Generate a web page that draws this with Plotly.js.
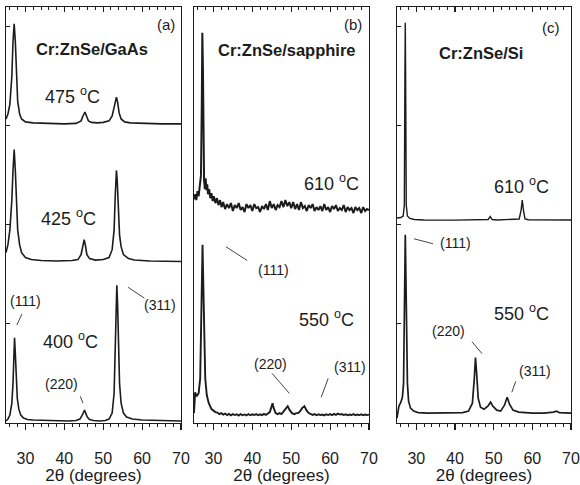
<!DOCTYPE html>
<html>
<head>
<meta charset="utf-8">
<script src="https://cdn.plot.ly/plotly-3.0.1.min.js"></script>
<style>html,body{margin:0;padding:0;background:#fff;}#chart{width:580px;height:485px;}</style>
</head>
<body>
<div id="chart"></div>
<script>
// ---------- DATA (2θ in degrees, intensity in arbitrary stacked units) ----------
// Panel (a) Cr:ZnSe/GaAs
const gaas400X = [25,25.5,26,26.5,26.8,27.0,27.2,27.4,27.6,27.9,28.3,28.8,29.5,30.5,32,35,38,41,43,44,44.6,45.0,45.2,45.5,45.9,46.5,47.5,49,50.5,51.5,52.3,52.8,53.1,53.3,53.5,53.7,53.9,54.2,54.6,55.2,56,57.5,60,63,66,70];
const gaas400Y = [0.02,0.04,0.08,0.2,0.4,0.7,0.86,0.7,0.45,0.25,0.14,0.08,0.05,0.035,0.03,0.025,0.02,0.02,0.025,0.04,0.08,0.12,0.13,0.1,0.06,0.035,0.025,0.02,0.025,0.04,0.1,0.3,0.9,1.3,1.39,1.2,0.8,0.4,0.2,0.1,0.06,0.04,0.03,0.025,0.02,0.02];
const gaas425X = [25,25.5,26,26.5,26.8,27.1,27.4,27.7,28.0,28.5,29,30,31.5,34,38,42,43.5,44.3,44.8,45.1,45.4,45.8,46.5,48,50,51.5,52.3,52.8,53.1,53.3,53.4,53.6,53.9,54.2,54.6,55.2,56.5,58,62,66,70];
const gaas425Y = [1.72,1.8,1.95,2.25,2.55,2.76,2.55,2.2,1.95,1.8,1.72,1.67,1.65,1.64,1.635,1.64,1.65,1.7,1.8,1.85,1.8,1.7,1.66,1.645,1.65,1.67,1.75,1.95,2.3,2.5,2.55,2.45,2.15,1.9,1.78,1.7,1.66,1.645,1.635,1.63,1.63];
const gaas475X = [25,25.5,26,26.5,26.8,27.1,27.4,27.7,28.0,28.5,29,30,32,36,40,43,44.3,44.8,45.3,45.7,46.2,47,48.5,50,51.5,52.3,52.9,53.2,53.4,53.7,54.1,54.6,55.5,57,60,65,70];
const gaas475Y = [3.07,3.12,3.22,3.5,3.85,4.03,3.85,3.5,3.25,3.12,3.07,3.04,3.03,3.025,3.02,3.025,3.05,3.1,3.14,3.1,3.05,3.035,3.03,3.035,3.05,3.1,3.2,3.28,3.29,3.24,3.13,3.07,3.04,3.03,3.025,3.02,3.02];

// Panel (b) Cr:ZnSe/sapphire
const sap550X = [25,25.3,25.7,26.2,26.6,26.9,27.1,27.2,27.35,27.6,27.9,28.3,28.8,29.5,30,30.5,31,31.5,32,32.5,33,33.5,34,34.5,35,35.5,36,36.5,37,37.5,38,38.5,39,39.5,40,40.5,41,41.5,42,42.5,43,43.5,44,44.5,44.9,45.2,45.5,46,46.5,47,47.5,48,48.5,49.1,49.6,50.2,50.8,51.3,51.8,52.3,52.8,53.4,53.9,54.5,55,55.5,56,56.5,57,57.5,58,58.5,59,59.5,60,60.5,61,61.5,62,62.5,63,63.5,64,64.5,65,65.5,66,66.5,67,67.5,68,68.5,69,69.5,70];
const sap550Y = [0.1,0.31,0.27,0.3,0.45,1.0,1.7,1.8,1.5,0.8,0.45,0.28,0.2,0.14,0.12,0.11,0.105,0.09,0.1,0.085,0.095,0.08,0.092,0.078,0.09,0.08,0.088,0.075,0.09,0.078,0.086,0.076,0.09,0.078,0.088,0.08,0.09,0.078,0.088,0.08,0.092,0.082,0.095,0.11,0.16,0.2,0.15,0.1,0.09,0.1,0.09,0.11,0.14,0.17,0.13,0.1,0.09,0.1,0.1,0.12,0.15,0.17,0.13,0.1,0.088,0.082,0.09,0.078,0.088,0.08,0.086,0.077,0.088,0.08,0.09,0.08,0.092,0.082,0.095,0.085,0.09,0.08,0.088,0.078,0.086,0.08,0.09,0.078,0.086,0.08,0.088,0.078,0.086,0.08,0.085];
const sap610X = [25,25.3,25.6,25.9,26.2,26.5,26.8,27.0,27.15,27.3,27.45,27.6,27.8,28.0,28.2,28.4,28.6,28.9,29.2,29.5,29.8,30.1,30.5,30.9,31.3,31.7,32.1,
  32.5,33,33.5,34,34.5,35,35.5,36,36.5,37,37.5,38,38.5,39,39.5,40,40.5,41,41.5,42,42.5,43,43.5,44,44.5,45,45.5,46,46.5,47,
  47.5,48,48.5,49,49.5,50,50.5,51,51.5,52,52.5,53,53.5,54,54.5,55,55.5,56,56.5,57,57.5,58,58.5,59,59.5,60,60.5,61,61.5,62,
  62.5,63,63.5,64,64.5,65,65.5,66,66.5,67,67.5,68,68.5,69,69.5,70];
const sap610Y = [2.26,2.31,2.25,2.34,2.29,2.39,2.5,3.2,3.94,3.6,2.8,2.45,2.36,2.47,2.35,2.41,2.31,2.36,2.27,2.32,2.24,2.29,2.22,2.27,2.2,2.25,2.18,
  2.23,2.16,2.21,2.17,2.22,2.14,2.2,2.17,2.22,2.15,2.18,2.13,2.21,2.17,2.2,2.14,2.21,2.17,2.18,2.13,2.19,2.16,2.21,2.15,2.24,2.17,2.21,2.15,2.2,2.18,
  2.24,2.18,2.25,2.19,2.23,2.17,2.23,2.16,2.21,2.15,2.23,2.17,2.19,2.14,2.2,2.17,2.21,2.14,2.18,2.15,2.19,2.14,2.21,2.15,2.18,2.13,2.19,2.16,2.2,2.14,
  2.17,2.15,2.2,2.13,2.18,2.15,2.17,2.12,2.18,2.15,2.17,2.12,2.18,2.14,2.16,2.15];

// Panel (c) Cr:ZnSe/Si
const si550X = [25,25.5,26,26.4,26.7,26.9,27.05,27.15,27.3,27.5,27.7,28.0,28.5,29.3,30.5,33,38,42,43.5,44.5,45.0,45.3,45.6,46.0,46.6,47.5,48.5,49.2,49.8,50.8,51.8,52.8,53.5,54.1,55,56.5,60,63,65.5,66.2,67,70];
const si550Y = [0.05,0.17,0.21,0.26,0.4,0.9,1.6,1.9,1.5,0.8,0.4,0.22,0.15,0.12,0.105,0.1,0.1,0.105,0.12,0.2,0.45,0.66,0.5,0.25,0.16,0.14,0.17,0.21,0.17,0.13,0.12,0.18,0.26,0.19,0.13,0.11,0.1,0.1,0.11,0.12,0.105,0.1];
const si610X = [25,26,26.6,26.9,27.05,27.15,27.25,27.4,27.7,28.3,29.5,32,40,47,48.6,49.1,49.6,51,55,56.6,57.1,57.4,57.7,58.1,59,63,70];
const si610Y = [2.07,2.075,2.09,2.2,3.5,4.04,3.4,2.2,2.09,2.065,2.055,2.05,2.048,2.05,2.055,2.085,2.055,2.05,2.052,2.06,2.15,2.25,2.15,2.06,2.052,2.05,2.05];

const xTickVals = [30,40,50,60,70];
const xTitle = '2θ (degrees)';

// ---------- STYLE ----------
const FONT = 'Liberation Sans, Arial, Helvetica, sans-serif';
const INK = '#1c1c1c';
const LW = 1.6;

function line(x, y, xa, ya, w) {
  return {x: x, y: y, xaxis: xa, yaxis: ya, type: 'scatter', mode: 'lines',
          line: {color: INK, width: w || LW}, hoverinfo: 'skip', showlegend: false};
}
const traces = [
  line(gaas400X, gaas400Y, 'x', 'y'),
  line(gaas425X, gaas425Y, 'x', 'y'),
  line(gaas475X, gaas475Y, 'x', 'y'),
  line(sap550X, sap550Y, 'x2', 'y2', 1.9),
  line(sap610X, sap610Y, 'x2', 'y2', 2.0),
  line(si550X, si550Y, 'x3', 'y3', 1.7),
  line(si610X, si610Y, 'x3', 'y3', 1.4),
  // empty traces that create the top (mirror) axes
  {x: [], y: [], xaxis: 'x4', yaxis: 'y', type: 'scatter', showlegend: false},
  {x: [], y: [], xaxis: 'x5', yaxis: 'y2', type: 'scatter', showlegend: false},
  {x: [], y: [], xaxis: 'x6', yaxis: 'y3', type: 'scatter', showlegend: false}
];

const domains = [[0, 0.3097], [0.3327, 0.6425], [0.692, 1]];

function bottomAxis(dom, ya) {
  return {domain: dom, anchor: ya, range: [25, 70], tickmode: 'array', tickvals: xTickVals,
    ticks: 'outside', ticklen: 6, tickwidth: 1.2, tickcolor: INK, ticklabelstandoff: 14,
    minor: {tickmode: 'linear', tick0: 0, dtick: 2, ticks: 'outside', ticklen: 3, tickcolor: INK, tickwidth: 1},
    showline: true, linecolor: INK, linewidth: 1.3, zeroline: false, showgrid: false,
    tickfont: {family: FONT, size: 16, color: INK},
    title: {text: xTitle, font: {family: FONT, size: 17, color: INK}, standoff: 11}};
}
function topAxis(over, ya) {
  return {overlaying: over, anchor: ya, side: 'top', range: [25, 70], tickmode: 'linear', tick0: 0, dtick: 10,
    ticks: 'inside', ticklen: 5, tickwidth: 1.2, tickcolor: INK,
    minor: {tickmode: 'linear', tick0: 0, dtick: 2, ticks: 'inside', ticklen: 3, tickcolor: INK, tickwidth: 1},
    showticklabels: false, showline: true, linecolor: INK, linewidth: 1.3, zeroline: false, showgrid: false};
}
function yAxis(xa, showTicks) {
  return {domain: [0, 1], anchor: xa, range: [0, 4.2], tickmode: 'linear', tick0: 0, dtick: 1,
    ticks: showTicks ? 'inside' : '', ticklen: 4, tickcolor: INK, showticklabels: false,
    showline: true, mirror: true, linecolor: INK, linewidth: 1.3, zeroline: false, showgrid: false};
}

function txt(xr, yr, x, y, t, size, bold) {
  return {xref: xr, yref: yr, x: x, y: y, text: bold ? '<b>' + t + '</b>' : t, showarrow: false,
          font: {family: FONT, size: size, color: INK}, xanchor: 'center', yanchor: 'middle'};
}
const deg = (v) => v + ' <sup>o</sup>C';
const TS = 18, PS = 14, BS = 16.5;

const annotations = [
  // (a)
  txt('x', 'y', 66.2, 4.02, '(a)', 15),
  txt('x', 'y', 47.2, 3.78, 'Cr:ZnSe/GaAs', BS, true),
  txt('x', 'y', 42.0, 3.31, deg(475), TS),
  txt('x', 'y', 41.2, 2.07, deg(425), TS),
  txt('x', 'y', 41.5, 0.83, deg(400), TS),
  txt('x', 'y', 29.9, 1.23, '(111)', PS),
  txt('x', 'y', 64.7, 1.19, '(311)', PS),
  txt('x', 'y', 39.2, 0.39, '(220)', PS),
  // (b)
  txt('x2', 'y2', 66.0, 4.02, '(b)', 15),
  txt('x2', 'y2', 49.0, 3.77, 'Cr:ZnSe/sapphire', BS, true),
  txt('x2', 'y2', 60.3, 2.43, deg(610), TS),
  txt('x2', 'y2', 59.0, 1.06, deg(550), TS),
  txt('x2', 'y2', 45.4, 1.54, '(111)', PS),
  txt('x2', 'y2', 44.8, 0.60, '(220)', PS),
  txt('x2', 'y2', 65.2, 0.57, '(311)', PS),
  // (c)
  txt('x3', 'y3', 64.8, 3.99, '(c)', 15),
  txt('x3', 'y3', 46.6, 3.74, 'Cr:ZnSe/Si', BS, true),
  txt('x3', 'y3', 57.3, 2.40, deg(610), TS),
  txt('x3', 'y3', 57.3, 1.12, deg(550), TS),
  txt('x3', 'y3', 40.2, 1.82, '(111)', PS),
  txt('x3', 'y3', 38.4, 0.93, '(220)', PS),
  txt('x3', 'y3', 60.7, 0.53, '(311)', PS)
];

function seg(xr, yr, x0, y0, x1, y1) {
  return {type: 'line', xref: xr, yref: yr, x0: x0, y0: y0, x1: x1, y1: y1, line: {color: '#444', width: 1}};
}
const shapes = [
  seg('x', 'y', 27.8, 0.99, 29.1, 1.10),
  seg('x', 'y', 56.4, 1.37, 60.6, 1.26),
  seg('x', 'y', 44.1, 0.27, 44.8, 0.20),
  seg('x2', 'y2', 33.2, 1.78, 38.7, 1.64),
  seg('x2', 'y2', 45.1, 0.50, 49.5, 0.30),
  seg('x2', 'y2', 59.5, 0.45, 57.7, 0.26),
  seg('x3', 'y3', 29.4, 1.86, 34.3, 1.81),
  seg('x3', 'y3', 44.4, 0.82, 47.0, 0.70),
  seg('x3', 'y3', 55.7, 0.42, 54.7, 0.31)
];

const layout = {
  width: 580, height: 485,
  margin: {l: 6, r: 9, t: 7, b: 62},
  paper_bgcolor: '#fff', plot_bgcolor: '#fff',
  showlegend: false,
  xaxis: bottomAxis(domains[0], 'y'),
  xaxis2: bottomAxis(domains[1], 'y2'),
  xaxis3: bottomAxis(domains[2], 'y3'),
  xaxis4: topAxis('x', 'y'),
  xaxis5: topAxis('x2', 'y2'),
  xaxis6: topAxis('x3', 'y3'),
  yaxis: yAxis('x', true),
  yaxis2: yAxis('x2', false),
  yaxis3: yAxis('x3', true),
  annotations: annotations,
  shapes: shapes
};

Plotly.newPlot('chart', traces, layout, {displayModeBar: false, staticPlot: true});
</script>
</body>
</html>
